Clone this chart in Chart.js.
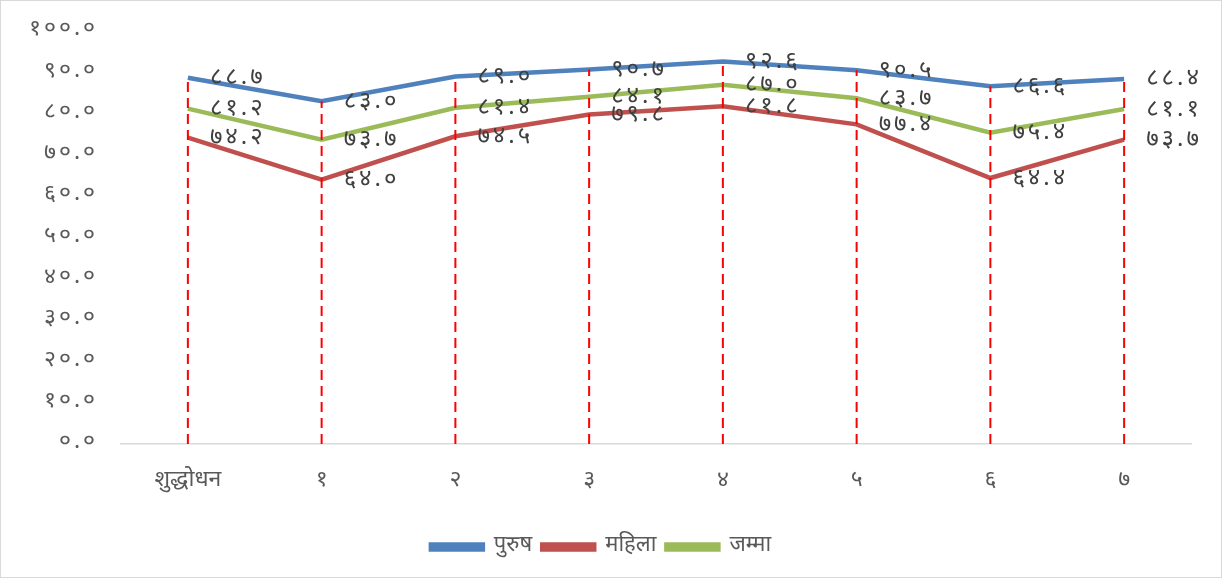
<!DOCTYPE html>
<html>
<head>
<meta charset="utf-8">
<script src="https://cdn.jsdelivr.net/npm/chart.js@4.4.1/dist/chart.umd.min.js"></script>
<style>
  html, body { margin: 0; padding: 0; background: #fff; }
  #wrap { position: relative; width: 1220px; height: 576px; border: 1px solid #d9d9d9; }
</style>
</head>
<body>
<div id="wrap"><canvas id="chart" width="1220" height="576"></canvas></div>
<script>
const categories = ['शुद्धोधन', '१', '२', '३', '४', '५', '६', '७'];
const male = [88.7, 83.0, 89.0, 90.7, 92.6, 90.5, 86.6, 88.4];
const female = [74.2, 64.0, 74.5, 79.8, 81.8, 77.4, 64.4, 73.7];
const total = [81.2, 73.7, 81.4, 84.1, 87.0, 83.7, 75.4, 81.1];
const yTicks = [0, 10, 20, 30, 40, 50, 60, 70, 80, 90, 100];

const devDigits = '०१२३४५६७८९';
function toDev(str) {
  return String(str).replace(/[0-9]/g, d => devDigits[d]);
}

const FONT = "'Noto Sans Devanagari', 'Lohit Devanagari', 'Noto Sans', sans-serif";
const SPACING = '3px';

// words (x labels, legend) normal spacing; numbers get wider spacing like the original font
// the y tick labels are on z 1 so they draw after the datasets, with the wide spacing
const spacing = {
  id: 'spacing',
  beforeDraw(chart) { chart.ctx.letterSpacing = '0px'; },
  afterDatasetsDraw(chart) { chart.ctx.letterSpacing = SPACING; }
};

// red dashed drop lines from each category's highest point to the axis
const dropLines = {
  id: 'dropLines',
  afterDatasetsDraw(chart) {
    const ctx = chart.ctx;
    const bottom = chart.chartArea.bottom;
    ctx.save();
    ctx.strokeStyle = '#ff0000';
    ctx.lineWidth = 2;
    ctx.setLineDash([10, 6]);
    categories.forEach((c, i) => {
      let top = bottom;
      let x = null;
      chart.data.datasets.forEach((ds, di) => {
        const pt = chart.getDatasetMeta(di).data[i];
        if (pt) { top = Math.min(top, pt.y); x = pt.x; }
      });
      if (x === null) return;
      ctx.beginPath();
      ctx.moveTo(x, bottom);
      ctx.lineTo(x, top);
      ctx.stroke();
    });
    ctx.restore();
  }
};

// value labels to the right of each point
const valueLabels = {
  id: 'valueLabels',
  afterDraw(chart) {
    const ctx = chart.ctx;
    ctx.save();
    ctx.letterSpacing = SPACING;
    ctx.font = '24px ' + FONT;
    ctx.fillStyle = '#404040';
    ctx.textAlign = 'left';
    ctx.textBaseline = 'middle';
    chart.data.datasets.forEach((ds, di) => {
      chart.getDatasetMeta(di).data.forEach((pt, i) => {
        ctx.fillText(toDev(ds.data[i].toFixed(1)), pt.x + 22, pt.y + 2);
      });
    });
    ctx.restore();
  }
};

const lineStyle = { borderWidth: 4.5, pointRadius: 0, pointHoverRadius: 0, tension: 0, fill: false };

new Chart(document.getElementById('chart').getContext('2d'), {
  type: 'line',
  data: {
    labels: categories,
    datasets: [
      { label: 'पुरुष', data: male, borderColor: '#4f81bd', backgroundColor: '#4f81bd', ...lineStyle },
      { label: 'महिला', data: female, borderColor: '#c0504d', backgroundColor: '#c0504d', ...lineStyle },
      { label: 'जम्मा', data: total, borderColor: '#9bbb59', backgroundColor: '#9bbb59', ...lineStyle }
    ]
  },
  options: {
    responsive: false,
    animation: false,
    layout: { padding: { top: 30, right: 30, left: 10, bottom: 9 } },
    plugins: {
      tooltip: { enabled: false },
      legend: {
        position: 'bottom',
        labels: {
          font: { family: FONT, size: 22 },
          color: '#595959',
          boxWidth: 52,
          boxHeight: 5,
          padding: 10
        }
      }
    },
    scales: {
      x: {
        offset: true,
        grid: { display: false, drawTicks: false },
        border: { color: '#d9d9d9', width: 1.5 },
        ticks: { font: { family: FONT, size: 23 }, color: '#595959', padding: 24 },
        afterFit(s) { s.height = 82; }
      },
      y: {
        min: 0,
        max: 100,
        afterBuildTicks(s) { s.ticks = yTicks.map(v => ({ value: v })); },
        grid: { display: false, drawTicks: false },
        border: { display: false },
        ticks: {
          z: 1,
          font: { family: FONT, size: 23 },
          color: '#595959',
          padding: 23,
          callback: v => toDev(v.toFixed(1))
        },
        afterFit(s) { s.width = 110; s.paddingTop = 0; s.paddingBottom = 0; }
      }
    }
  },
  plugins: [spacing, dropLines, valueLabels]
});
</script>
</body>
</html>
